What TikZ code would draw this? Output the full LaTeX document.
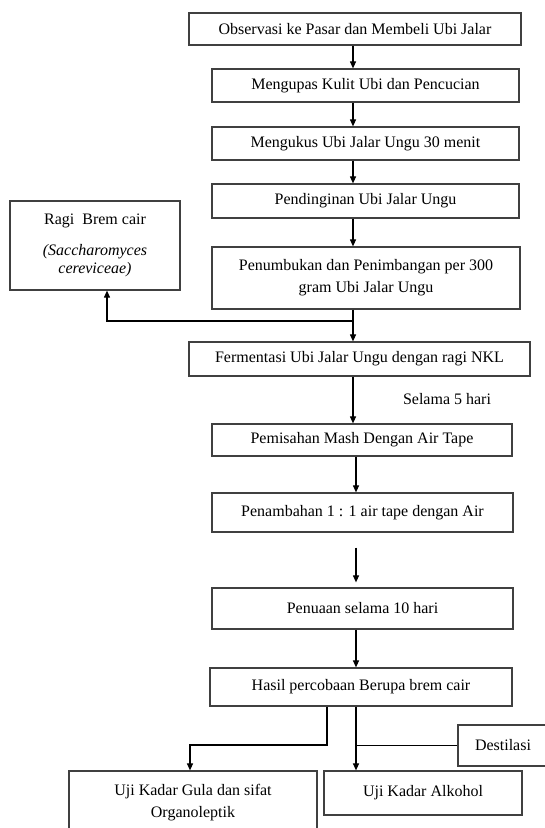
\documentclass[tikz,border=0pt]{standalone}
\usepackage{fontspec}
\setmainfont{Liberation Serif}
\usetikzlibrary{arrows.meta}

\tikzset{
  stepbox/.style={draw=black!75, line width=1.2pt, inner sep=0pt, align=center,
    font=\fontsize{16}{22}\selectfont},
  arr/.style={-{Triangle[length=7pt,width=6pt]}, line width=1.1pt},
  conn/.style={line width=1.1pt},
}

\begin{document}
\begin{tikzpicture}[x=1pt,y=-1pt]
  \useasboundingbox (0,0) rectangle (545,828);

  % preparation of the purple sweet potato
  \node[stepbox, minimum width=332pt, minimum height=32pt] (obs) at (355,29) {Observasi ke Pasar dan Membeli Ubi Jalar};
  \node[stepbox, minimum width=307pt, minimum height=33pt] (kupas) at (365.5,85.5) {Mengupas Kulit Ubi dan Pencucian};
  \node[stepbox, minimum width=307pt, minimum height=33pt] (kukus) at (365.5,143.5) {Mengukus Ubi Jalar Ungu 30 menit};
  \node[stepbox, minimum width=307pt, minimum height=34pt] (dingin) at (365.5,201) {Pendinginan Ubi Jalar Ungu};
  \node[stepbox, minimum width=308pt, minimum height=62pt] (tumbuk) at (366,278) {Penumbukan dan Penimbangan per 300\\ gram Ubi Jalar Ungu};
  \node[stepbox, minimum width=170pt, minimum height=89pt] (ragi) at (95,245.5) {Ragi\ \ Brem cair\\[9pt] \textit{(Saccharomyces}\\[-4pt] \textit{cereviceae)}};

  % fermentation and ageing
  \node[stepbox, minimum width=341pt, minimum height=34pt] (fermen) at (359.5,359) {Fermentasi Ubi Jalar Ungu dengan ragi NKL};
  \node[font=\fontsize{16}{22}\selectfont] (selama) at (447,399) {Selama 5 hari};
  \node[stepbox, minimum width=300pt, minimum height=32pt] (pisah) at (362,440) {Pemisahan Mash Dengan Air Tape};
  \node[stepbox, minimum width=301pt, minimum height=39pt] (tambah) at (362.5,512.5) {Penambahan 1 : 1 air tape dengan Air};
  \node[stepbox, minimum width=301pt, minimum height=41pt] (tua) at (362.5,608.5) {Penuaan selama 10 hari};
  \node[stepbox, minimum width=302pt, minimum height=38pt] (hasil) at (361,687) {Hasil percobaan Berupa brem cair};

  % tests
  \node[stepbox, minimum width=90pt, minimum height=41pt] (destilasi) at (503,745.5) {Destilasi};
  \node[stepbox, minimum width=248pt, minimum height=63pt] (gula) at (193,802.5) {Uji Kadar Gula dan sifat\\ Organoleptik};
  \node[stepbox, minimum width=198pt, minimum height=44pt] (alkohol) at (423,793) {Uji Kadar Alkohol};

  % connectors
  \coordinate (col) at (353,0);
  \coordinate (col2) at (356,0);
  \coordinate (cabang) at (353,321);
  \coordinate (kiri) at (327,745);

  \draw[arr] (col |- obs.south) -- (col |- kupas.north);
  \draw[arr] (col |- kupas.south) -- (col |- kukus.north);
  \draw[arr] (col |- kukus.south) -- (col |- dingin.north);
  \draw[arr] (col |- dingin.south) -- (col |- tumbuk.north);
  \draw[arr] (col |- tumbuk.south) -- (col |- fermen.north);
  \draw[arr] (cabang) -| ([xshift=12pt]ragi.south);
  \draw[arr] (col |- fermen.south) -- (col |- pisah.north);
  \draw[arr] (col2 |- pisah.south) -- (col2 |- tambah.north);
  \draw[arr] ([yshift=-15pt]col2 |- tambah.south) -- ([yshift=5pt]col2 |- tua.north);
  \draw[arr] (col2 |- tua.south) -- (col2 |- hasil.north);
  \draw[arr] (kiri |- hasil.south) -- (kiri) -| ([xshift=-3pt]gula.north);
  \draw[arr] (col2 |- hasil.south) -- (col2 |- alkohol.north);
  \draw[conn] (destilasi.west) -- (col2 |- destilasi.west);
\end{tikzpicture}
\end{document}
